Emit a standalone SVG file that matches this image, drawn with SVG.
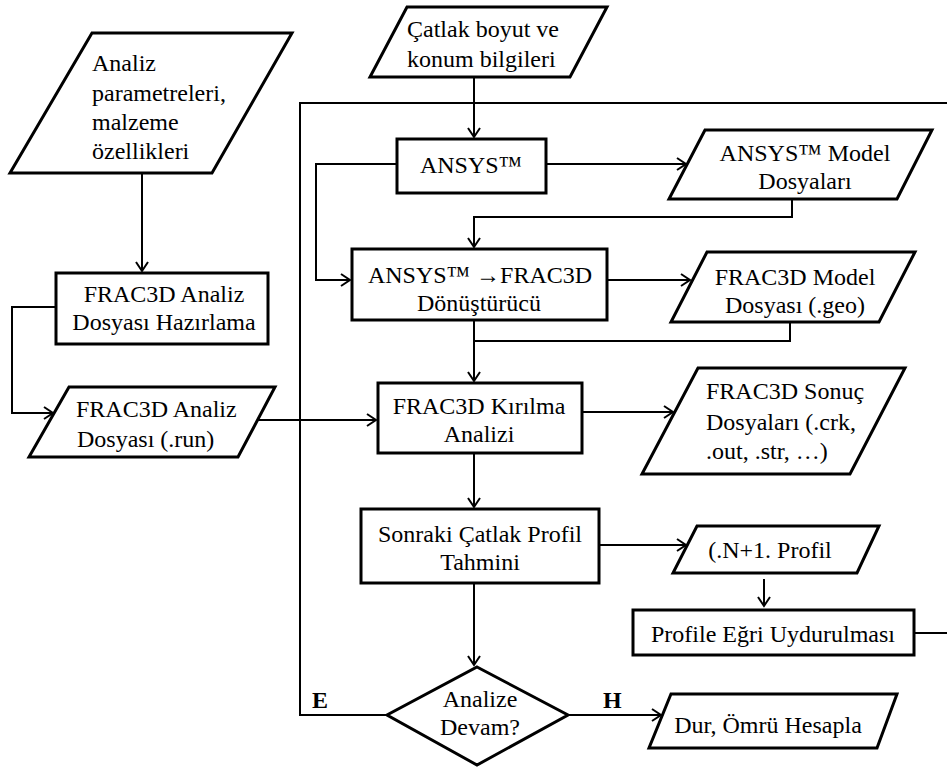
<svg xmlns="http://www.w3.org/2000/svg" width="947" height="767" viewBox="0 0 947 767">
<style>
text{font-family:"Liberation Serif","Times New Roman",serif;font-size:24px;fill:#000}
.c{text-anchor:middle}
.b{font-weight:bold}
.shape{fill:#fff;stroke:#000;stroke-width:3;stroke-linejoin:miter}
.con{fill:none;stroke:#000;stroke-width:2}
</style>
<defs>
<marker id="arr" markerUnits="userSpaceOnUse" markerWidth="12" markerHeight="14" viewBox="0 0 12 14" refX="10" refY="7" orient="auto">
<path d="M1,1 L10,7 L1,13" fill="none" stroke="#000" stroke-width="2"/>
</marker>
</defs>
<rect width="947" height="767" fill="#fff"/>
<g id="connectors">
<path class="con" d="M914,633 H960 V103 H300 V715 H387"/>
<path class="con" d="M142,173 V271" marker-end="url(#arr)"/>
<path class="con" d="M56,307 H12 V413 H53" marker-end="url(#arr)"/>
<path class="con" d="M258,420 H376" marker-end="url(#arr)"/>
<path class="con" d="M474,77 V137" marker-end="url(#arr)"/>
<path class="con" d="M546,164 H686" marker-end="url(#arr)"/>
<path class="con" d="M397,164 H316 V280 H350" marker-end="url(#arr)"/>
<path class="con" d="M792,199 V217 H474 V247" marker-end="url(#arr)"/>
<path class="con" d="M607,280 H690" marker-end="url(#arr)"/>
<path class="con" d="M474,320 V381" marker-end="url(#arr)"/>
<path class="con" d="M790,322 V341 H474"/>
<path class="con" d="M582,412 H673" marker-end="url(#arr)"/>
<path class="con" d="M474,453 V507" marker-end="url(#arr)"/>
<path class="con" d="M599,545 H686" marker-end="url(#arr)"/>
<path class="con" d="M474,583 V665" marker-end="url(#arr)"/>
<path class="con" d="M764,579 V606" marker-end="url(#arr)"/>
<path class="con" d="M569,715 H661" marker-end="url(#arr)"/>
</g>
<g id="n_analiz_param">
<polygon class="shape" points="92,33 292,33 212,173 10,173"/>
<text x="92" y="71">Analiz</text>
<text x="92" y="101">parametreleri,</text>
<text x="92" y="130">malzeme</text>
<text x="92" y="159">özellikleri</text>
</g>
<g id="n_frac3d_hazirlama">
<rect class="shape" x="56" y="273" width="212" height="71"/>
<text class="c" x="164" y="302">FRAC3D Analiz</text>
<text class="c" x="164" y="330">Dosyası Hazırlama</text>
</g>
<g id="n_frac3d_run">
<polygon class="shape" points="69,387 275,387 238,457 29,457"/>
<text x="76" y="417">FRAC3D Analiz</text>
<text x="77" y="447">Dosyası (.run)</text>
</g>
<g id="n_catlak">
<polygon class="shape" points="407,7 607,7 570,77 370,77"/>
<text x="407" y="37">Çatlak boyut ve</text>
<text x="407" y="67">konum bilgileri</text>
</g>
<g id="n_ansys">
<rect class="shape" x="397" y="139" width="149" height="54"/>
<text class="c" x="471" y="173">ANSYS™</text>
</g>
<g id="n_ansys_model">
<polygon class="shape" points="705,130 932,130 897,199 669,199"/>
<text class="c" x="805" y="161">ANSYS™ Model</text>
<text class="c" x="805" y="189">Dosyaları</text>
</g>
<g id="n_converter">
<rect class="shape" x="352" y="249" width="255" height="71"/>
<text class="c" x="480" y="283">ANSYS™ →FRAC3D</text>
<text class="c" x="479" y="311">Dönüştürücü</text>
</g>
<g id="n_frac3d_model">
<polygon class="shape" points="707,252 915,252 879,322 671,322"/>
<text class="c" x="795" y="285">FRAC3D Model</text>
<text class="c" x="795" y="313">Dosyası (.geo)</text>
</g>
<g id="n_kirilma">
<rect class="shape" x="378" y="383" width="204" height="70"/>
<text class="c" x="479" y="414">FRAC3D Kırılma</text>
<text class="c" x="479" y="442">Analizi</text>
</g>
<g id="n_sonuc">
<polygon class="shape" points="698,368 905,368 850,474 642,474"/>
<text x="706" y="399">FRAC3D Sonuç</text>
<text x="706" y="430">Dosyaları (.crk,</text>
<text x="706" y="459">.out, .str, …)</text>
</g>
<g id="n_sonraki">
<rect class="shape" x="361" y="509" width="238" height="74"/>
<text class="c" x="480" y="542">Sonraki Çatlak Profil</text>
<text class="c" x="480" y="570">Tahmini</text>
</g>
<g id="n_n1profil">
<polygon class="shape" points="697,526 879,526 857,573 673,573"/>
<text class="c" x="770" y="558">(.N+1. Profil</text>
</g>
<g id="n_profile_egri">
<rect class="shape" x="633" y="610" width="281" height="45"/>
<text class="c" x="773" y="642">Profile Eğri Uydurulması</text>
</g>
<g id="n_decision">
<polygon class="shape" points="477,667 568,715 477,765 387,715"/>
<text class="c" x="480" y="707">Analize</text>
<text class="c" x="480" y="735">Devam?</text>
</g>
<g id="n_dur">
<polygon class="shape" points="671,694 897,694 877,748 649,748"/>
<text class="c" x="768" y="733">Dur, Ömrü Hesapla</text>
</g>
<g id="labels">
<text class="b" x="312" y="708">E</text>
<text class="b" x="603" y="708">H</text>
</g>
</svg>
